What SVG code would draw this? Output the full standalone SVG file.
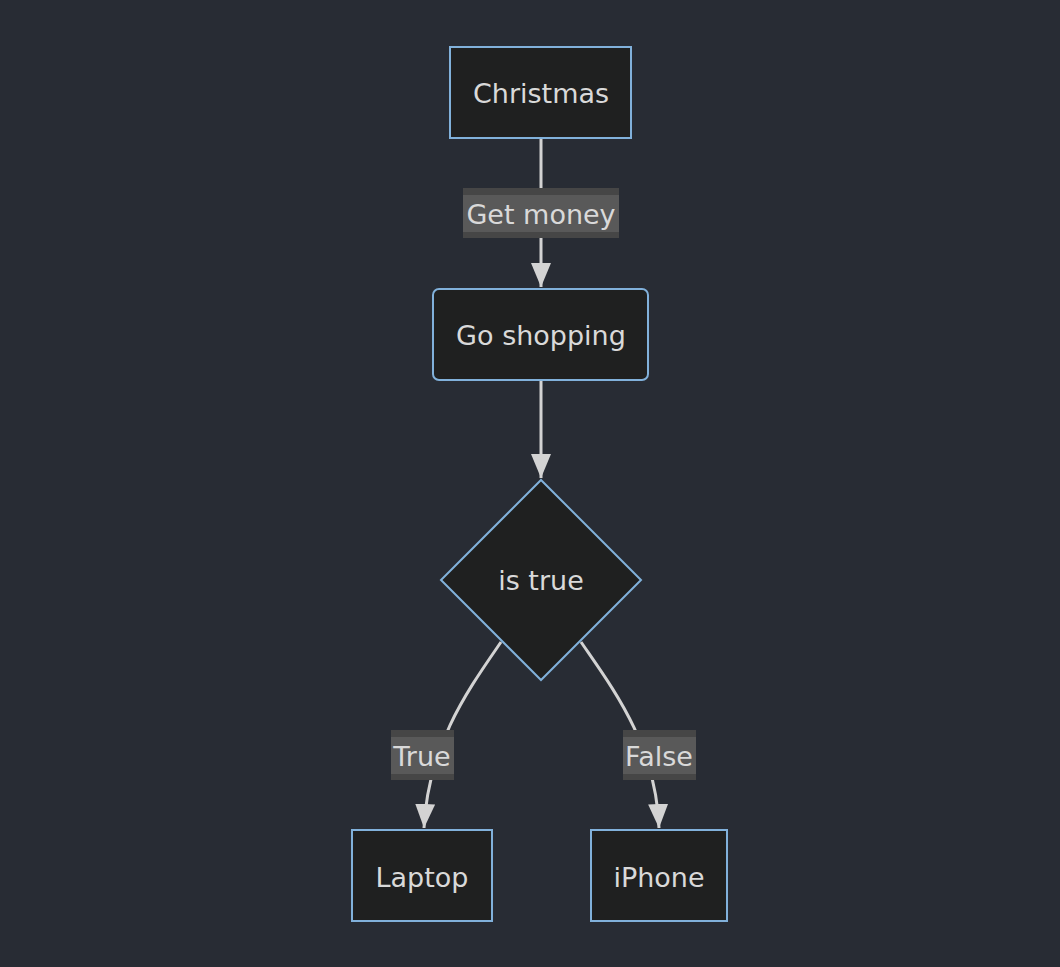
<svg xmlns="http://www.w3.org/2000/svg" width="1060" height="967" viewBox="0 0 1060 967">
<style>
.node{fill:#1f2020;stroke:#81b1db;stroke-width:2}
.t{font-family:"DejaVu Sans","Liberation Sans",sans-serif;font-size:27px;fill:#d9d9d9;text-anchor:middle;dominant-baseline:central}
.e{fill:none;stroke:#d3d3d3;stroke-width:3}
.lo{fill:#464646}
.li{fill:#595959}
</style>
<defs>
<marker id="a" viewBox="0 0 12 10" refX="12" refY="5" markerWidth="8" markerHeight="6.7" markerUnits="strokeWidth" orient="auto"><path d="M0,0L12,5L0,10z" fill="#d3d3d3"/></marker>
</defs>
<rect width="1060" height="967" fill="#282c34"/>
<g id="edges">
<path class="e" d="M541,138V287" marker-end="url(#a)"/>
<path class="e" d="M541,380V478" marker-end="url(#a)"/>
<path class="e" d="M501,642C468,690 428,745 424,828" marker-end="url(#a)"/>
<path class="e" d="M581,642C614,690 656,745 659,828" marker-end="url(#a)"/>
<rect class="lo" x="463" y="188" width="156" height="50"/><rect class="li" x="463" y="195" width="156" height="37"/>
<text class="t" x="541" y="214">Get money</text>
<rect class="lo" x="391" y="730" width="63" height="50"/><rect class="li" x="391" y="737" width="63" height="37"/>
<text class="t" x="422" y="756">True</text>
<rect class="lo" x="623" y="730" width="73" height="50"/><rect class="li" x="623" y="737" width="73" height="37"/>
<text class="t" x="659" y="756">False</text>
</g>
<g id="christmas"><rect class="node" x="450" y="47" width="181" height="91"/><text class="t" x="541" y="93">Christmas</text></g>
<g id="shopping"><rect class="node" x="433" y="289" width="215" height="91" rx="6"/><text class="t" x="541" y="335">Go shopping</text></g>
<g id="decision"><polygon class="node" points="541,480 641,580 541,680 441,580"/><text class="t" x="541" y="580">is true</text></g>
<g id="laptop"><rect class="node" x="352" y="830" width="140" height="91"/><text class="t" x="422" y="877">Laptop</text></g>
<g id="iphone"><rect class="node" x="591" y="830" width="136" height="91"/><text class="t" x="659" y="877">iPhone</text></g>
</svg>
